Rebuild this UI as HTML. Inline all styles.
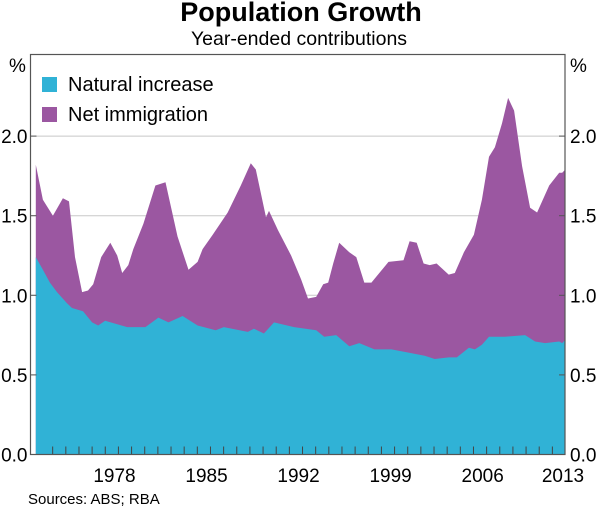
<!DOCTYPE html>
<html><head><meta charset="utf-8"><style>
body{margin:0;background:#fff;width:600px;height:510px;overflow:hidden}
svg text{font-family:"Liberation Sans",Arial,sans-serif;fill:#000}
</style></head><body>
<svg id="chart" width="600" height="510">
<text x="301" y="21" text-anchor="middle" font-size="27" font-weight="bold">Population Growth</text>
<text x="299" y="45" text-anchor="middle" font-size="19.5">Year-ended contributions</text>
<g id="grid"></g>
<g id="areas"></g>
<g id="axes"></g>
<g>
<rect x="42" y="77" width="15" height="15" fill="#30b2d6"/>
<text x="68" y="91" font-size="20">Natural increase</text>
<rect x="42" y="107" width="15" height="15" fill="#9b57a1"/>
<text x="68" y="121" font-size="20">Net immigration</text>
</g>
<text x="28" y="504" font-size="15">Sources:  ABS; RBA</text>
</svg>
<script>
const totalDates=[1973.72,1974.26,1975.02,1975.78,1976.24,1976.70,1977.24,1977.69,1978.08,1978.69,1979.38,1979.91,1980.29,1980.75,1981.13,1981.90,1982.81,1983.58,1984.49,1985.33,1986.02,1986.40,1987.17,1988.31,1989.31,1990.07,1990.45,1991.22,1991.45,1992.13,1993.13,1993.89,1994.42,1995.04,1995.57,1995.95,1996.33,1996.79,1997.56,1998.09,1998.70,1999.24,2000.54,2001.68,2002.14,2002.68,2003.21,2003.67,2004.20,2005.12,2005.58,2006.27,2007.03,2007.64,2008.18,2008.63,2009.17,2009.63,2010.09,2010.70,2011.31,2011.84,2012.76,2013.52,2013.75,2013.98];
const totalValues=[1.82,1.60,1.50,1.61,1.59,1.24,1.02,1.03,1.07,1.24,1.33,1.25,1.14,1.19,1.29,1.45,1.69,1.71,1.37,1.16,1.21,1.29,1.38,1.52,1.69,1.83,1.79,1.49,1.53,1.41,1.25,1.10,0.98,0.99,1.07,1.08,1.20,1.33,1.27,1.24,1.08,1.08,1.21,1.22,1.34,1.33,1.20,1.19,1.20,1.13,1.14,1.27,1.38,1.60,1.87,1.93,2.08,2.24,2.16,1.81,1.55,1.52,1.69,1.77,1.77,1.79];
const natDates=[1973.72,1974.26,1974.79,1975.33,1976.09,1976.47,1977.31,1978.0,1978.46,1978.99,1980.67,1982.05,1983.04,1983.81,1984.88,1986.02,1987.40,1988.01,1989.84,1990.30,1991.06,1991.83,1993.36,1995.04,1995.65,1996.56,1997.56,1998.32,1999.47,2000.77,2002.06,2003.29,2004.05,2005.12,2005.73,2006.65,2007.11,2007.64,2008.18,2009.40,2010.93,2011.69,2012.45,2013.52,2013.75,2013.98];
const natValues=[1.24,1.16,1.08,1.02,0.95,0.92,0.90,0.83,0.81,0.84,0.80,0.80,0.86,0.83,0.87,0.81,0.78,0.80,0.77,0.79,0.76,0.83,0.80,0.78,0.74,0.75,0.68,0.70,0.66,0.66,0.64,0.62,0.60,0.61,0.61,0.67,0.66,0.69,0.74,0.74,0.75,0.71,0.70,0.71,0.70,0.72];
const yTicks=[0,0.5,1.0,1.5,2.0];
const yearLabels=[1978,1985,1992,1999,2006,2013];
const firstYear=1975,lastYear=2014;

const L=30.5,R=565,T=54.5,B=454.5;
const x=t=>107.9+(t-1.2-1978)*13.15;
const y=v=>B-v*159.2;
const NS='http://www.w3.org/2000/svg';
function mk(tag,attrs,parent){const e=document.createElementNS(NS,tag);for(const k in attrs)e.setAttribute(k,attrs[k]);parent.appendChild(e);return e;}
const grid=document.getElementById('grid'),areas=document.getElementById('areas'),axes=document.getElementById('axes');

yTicks.forEach(v=>{
  if(v>0){const g=mk('line',{x1:L,x2:R,y1:y(v),y2:y(v),stroke:'#c8c8c8','stroke-width':1},grid);
  
  }
  const lt=mk('text',{x:L-3,y:y(v)+7,'text-anchor':'end','font-size':19},axes);lt.textContent=v.toFixed(1);
  
  
  const rt=mk('text',{x:R+5,y:y(v)+7,'font-size':19},axes);rt.textContent=v.toFixed(1);
  
  
  mk('line',{x1:L,x2:L+6,y1:y(v),y2:y(v),stroke:'#555'},axes);
  mk('line',{x1:R-6,x2:R,y1:y(v),y2:y(v),stroke:'#555'},axes);
});
const pl=mk('text',{x:9,y:72,'font-size':19},axes);pl.textContent='%';


const pr=mk('text',{x:570,y:72,'font-size':19},axes);pr.textContent='%';



function pathOf(dates,vals){let d='M'+x(dates[0]).toFixed(1)+','+B;dates.forEach((t,i)=>d+='L'+x(t).toFixed(1)+','+y(vals[i]).toFixed(1));return d+'L'+x(dates[dates.length-1]).toFixed(1)+','+B+'Z';}
const imm=mk('path',{d:pathOf(totalDates,totalValues),fill:'#9b57a1'},areas);


const nat=mk('path',{d:pathOf(natDates,natValues),fill:'#30b2d6'},areas);



for(let yr=firstYear;yr<=lastYear;yr++){const px=x(yr);if(px>L+2&&px<R-2)mk('line',{x1:px,x2:px,y1:B,y2:B-8,stroke:'#444'},axes);}
yearLabels.forEach(yr=>{const cx=Math.min(x(yr+1.7),563);const t=mk('text',{x:cx,y:482,'text-anchor':'middle','font-size':19},axes);t.textContent=yr;

});
const fr=mk('rect',{x:L,y:T,width:R-L,height:B-T,fill:'none',stroke:'#555','stroke-width':1.2},axes);


</script>
</body></html>
